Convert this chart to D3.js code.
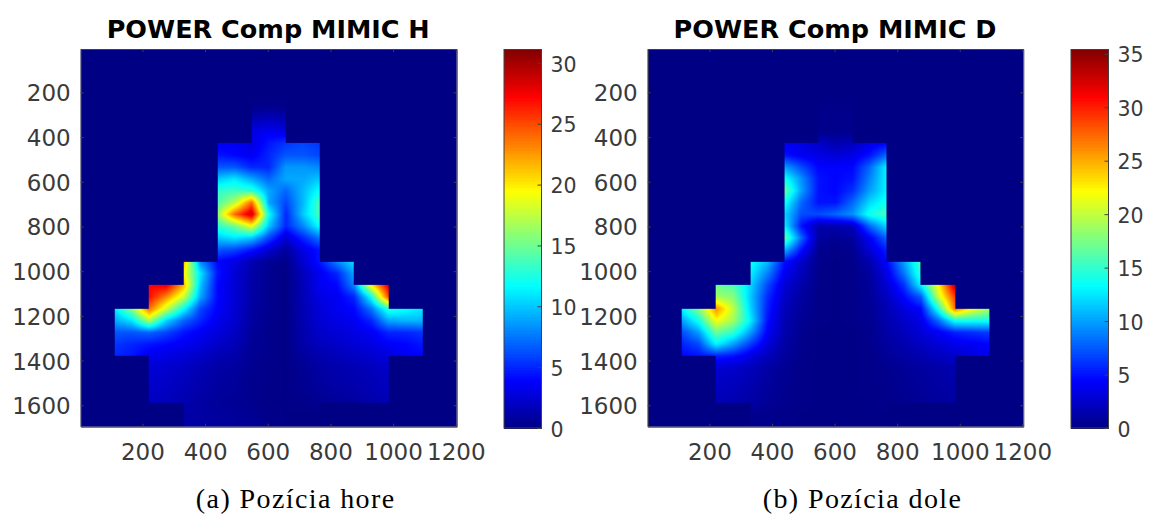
<!DOCTYPE html>
<html lang="en">
<head>
<meta charset="UTF-8">
<title>POWER Comp MIMIC</title>
<script src="https://d3js.org/d3.v7.min.js"></script>
<style>
  html, body { margin: 0; padding: 0; background: #fff; }
  svg { display: block; }
  .tick text { font-family: "DejaVu Sans", sans-serif; font-size: 23px; fill: #3a3a3a; }
  .cbar .tick text { font-size: 20.5px; }
  .tick line, .domain { stroke: #404040; }
  .title { font-family: "DejaVu Sans", sans-serif; font-weight: bold; font-size: 25.5px; fill: #000; text-anchor: middle; }
  .caption { font-family: "Liberation Serif", serif; font-size: 28px; letter-spacing: 1.4px; fill: #000; text-anchor: middle; }
</style>
</head>
<body>
<svg id="chart" width="1150" height="516"></svg>
<script>
// axis ticks
const xTicks = [200, 400, 600, 800, 1000, 1200];
const yTicks = [200, 400, 600, 800, 1000, 1200, 1400, 1600];
const xLimits = [3, 1203];
const yLimits = [6, 1696];

const titles = ["POWER Comp MIMIC H", "POWER Comp MIMIC D"];
const captions = ["(a) Pozícia hore", "(b) Pozícia dole"];
const colorTicksA = [0, 5, 10, 15, 20, 25, 30];
const colorTicksB = [0, 5, 10, 15, 20, 25, 30, 35];
const colorMaxA = 31.1;
const colorMaxB = 35.4;

// which blocks of the 11 x 16 sensor grid hold data
const blockMask = [
  "...........",
  "...........",
  ".....#.....",
  ".....#.....",
  "....###....",
  "....###....",
  "....###....",
  "....###....",
  "....###....",
  "...#####...",
  "..#######..",
  ".#########.",
  ".#########.",
  "..#######..",
  "..#######..",
  "...####...."
];

// values, half block spacing, columns 2..20, rows 4..32
const fieldA = [
  [0,0,0,0,0,0,0,0,0,0,0,0,0,0,0,0,0,0,0],
  [0,0,0,0,0,0,0,0,.3,.4,.3,0,0,0,0,0,0,0,0],
  [0,0,0,0,0,0,0,0,1.5,2,1.5,0,0,0,0,0,0,0,0],
  [0,0,0,0,0,0,0,0,3,3.5,3,0,0,0,0,0,0,0,0],
  [0,0,0,0,0,0,3.5,3.5,3,4.5,5.5,6,5.5,0,0,0,0,0,0],
  [0,0,0,0,0,0,4.5,4,3.5,5,6.5,6.5,6,0,0,0,0,0,0],
  [0,0,0,0,0,0,6.5,6.5,5,5,8.5,8.5,8,0,0,0,0,0,0],
  [0,0,0,0,0,0,10,11,9,7,9,9,10,0,0,0,0,0,0],
  [0,0,0,0,0,0,13,13.5,13,9,7,9.5,12,0,0,0,0,0,0],
  [0,0,0,0,0,0,14,17,24,9,6,9.5,14,0,0,0,0,0,0],
  [0,0,0,0,0,0,16,24,29,12,5,10,14,0,0,0,0,0,0],
  [0,0,0,0,0,0,13,15,19,10,5,8,12,0,0,0,0,0,0],
  [0,0,0,0,0,0,10,11,10,6,2.5,5,7.5,0,0,0,0,0,0],
  [0,0,0,0,0,0,6.5,6,4.5,2.5,.8,3,4.5,0,0,0,0,0,0],
  [0,0,0,0,22,8,4,3,1.5,.6,.2,2.4,4.5,8,11,0,0,0,0],
  [0,0,0,0,20,11,4.5,2.6,1.2,.4,.1,1.8,3.5,5,9,0,0,0,0],
  [0,0,27,28,22,10,4,2.6,1.1,.4,.1,1.6,3.5,4,8,20,28,0,0],
  [0,0,27,23,18,9,4,2.6,1.1,.4,.1,1.6,3,3.5,5,12,25,0,0],
  [11,16,24,18,12,6,3.8,2.5,1,.4,.1,1.5,2.7,3.5,4,7.5,13,12,11],
  [9,11,17,10.5,7,5,3.3,2.4,.9,.3,.1,1.4,2.5,3,3.5,5,9,9.5,9.5],
  [6.5,6.5,7,6,4.5,3.5,2.8,2,.7,.3,.1,1.3,2.2,2.6,3,3.5,5,5,5.5],
  [5.5,5,4.5,4,3.5,3,2.2,1.7,.6,.3,.1,1.2,1.8,2.2,2.6,3,3.7,4,4.5],
  [5,4.5,3.3,3,2.6,2.1,1.5,1.2,.5,.3,.1,.8,1.3,1.7,2,2.3,2.8,3.5,4],
  [0,0,2.6,2.4,2,1.6,1.1,.9,.4,.2,.1,.5,1,1.3,1.5,1.8,2.2,0,0],
  [0,0,2.4,2.2,1.8,1.4,.9,.8,.3,.2,.1,.4,.9,1.2,1.4,1.6,2,0,0],
  [0,0,2.2,2,1.6,1.2,.8,.7,.3,.2,.1,.4,.7,1,1.2,1.5,1.8,0,0],
  [0,0,2,1.8,1.4,1,.7,.6,.3,.1,.1,.2,.4,.6,.8,1.2,1.6,0,0],
  [0,0,0,0,1,1,.8,.7,.5,.2,.1,.1,.1,0,0,0,0,0,0],
  [0,0,0,0,1,1,.8,.7,.5,.2,.1,.1,.1,0,0,0,0,0,0]
];

const fieldB = [
  [0,0,0,0,0,0,0,0,0,0,0,0,0,0,0,0,0,0,0],
  [0,0,0,0,0,0,0,0,.2,.2,.2,0,0,0,0,0,0,0,0],
  [0,0,0,0,0,0,0,0,.3,.3,.3,0,0,0,0,0,0,0,0],
  [0,0,0,0,0,0,0,0,.3,.3,.3,0,0,0,0,0,0,0,0],
  [0,0,0,0,0,0,4,3.5,2.5,1.5,2,3.5,4.5,0,0,0,0,0,0],
  [0,0,0,0,0,0,5,4,3.5,3,3.5,5,8,0,0,0,0,0,0],
  [0,0,0,0,0,0,10,7,4.5,4.5,4.5,8,13,0,0,0,0,0,0],
  [0,0,0,0,0,0,14,9.5,5,4.5,5,9,13,0,0,0,0,0,0],
  [0,0,0,0,0,0,17,10,5,4.5,6,10,13,0,0,0,0,0,0],
  [0,0,0,0,0,0,14,8,5,5,8,12,14,0,0,0,0,0,0],
  [0,0,0,0,0,0,12,7,7,8,9.5,14,15.5,0,0,0,0,0,0],
  [0,0,0,0,0,0,13,5,1.5,1.5,2,8,12,0,0,0,0,0,0],
  [0,0,0,0,0,0,17,8,1,.6,1,4,8,0,0,0,0,0,0],
  [0,0,0,0,0,0,11,5,.5,.2,.4,3,5.5,0,0,0,0,0,0],
  [0,0,0,0,14,11,5,2.5,.3,.1,.3,1.5,4.5,10,16,0,0,0,0],
  [0,0,0,0,13,9,4,2,.2,.1,.2,1,3.5,8.5,15,0,0,0,0],
  [0,0,17,16,12,7,3,1.4,.2,.1,.2,.8,2.8,6,13,22,33,0,0],
  [0,0,19,18,11.5,6,2.5,1,.2,.1,.2,.7,2.2,4.5,7.5,20,29,0,0],
  [13,18,26,20,12,5.5,2,.8,.2,.1,.2,.6,1.7,3.2,4.5,14,27,22,19],
  [10,14,22,19,13,5,1.7,.6,.2,.1,.2,.5,1.5,2.5,3.5,8,14,14,14],
  [7,10,17,15,10,4.2,1.5,.4,.1,.1,.1,.3,1.2,2,3,4,5.5,6,6.5],
  [5.5,7,13,10,6.5,3.2,1.2,.3,.1,.1,.1,.3,1,1.6,2.2,3,3.7,4,4.5],
  [4.5,5,5.5,5,3.4,2,.9,.3,.1,.1,.1,.2,.7,1.2,1.6,2.1,2.6,3.3,3.8],
  [0,0,2.8,2.6,2,1.2,.6,.2,.1,.1,.1,.2,.4,.7,1,1.3,1.6,0,0],
  [0,0,2.4,2.2,1.7,1,.5,.2,.1,.1,.1,.2,.3,.6,.9,1.2,1.4,0,0],
  [0,0,2.1,1.9,1.4,.9,.4,.2,.1,.1,.1,.2,.3,.5,.8,1,1.3,0,0],
  [0,0,1.8,1.6,1.2,.7,.3,.2,.1,.1,.1,.1,.2,.4,.6,.9,1.2,0,0],
  [0,0,0,0,.4,.3,.2,.1,.1,.1,.1,.1,.1,0,0,0,0,0,0],
  [0,0,0,0,.4,.3,.2,.1,.1,.1,.1,.1,.1,0,0,0,0,0,0]
];

// MATLAB jet stops
const jetStops = [0, 0.125, 0.375, 0.625, 0.875, 1];
const jetColors = ["#000084", "#0000ff", "#00ffff", "#ffff00", "#ff0000", "#800000"];

const svg = d3.select("#chart");

function drawPanel(opts) {
  const { field, colorMax, colorTicks, title, caption, left, right, barLeft } = opts;
  const top = 49, bottom = 426.7, barRight = barLeft + 37.5, barTop = 49.5, barBottom = 428;

  const x = d3.scaleLinear().domain(xLimits).range([left, right]);
  const y = d3.scaleLinear().domain(yLimits).range([top, bottom]);
  const blockX = d3.scaleLinear().domain(xLimits).range([0, 11]);
  const blockY = d3.scaleLinear().domain(yLimits).range([0, 16]);
  const color = d3.scaleLinear().domain(jetStops.map(d => d * colorMax)).range(jetColors).clamp(true);

  // paint the map to a canvas and put it in the svg as an image
  const w = Math.round(right - left), h = Math.round(bottom - top);
  const canvas = document.createElement("canvas");
  canvas.width = w; canvas.height = h;
  const ctx = canvas.getContext("2d");
  const img = ctx.createImageData(w, h);
  for (let py = 0; py < h; py++) {
    for (let px = 0; px < w; px++) {
      const dx = x.invert(left + (px + 0.5) * (right - left) / w);
      const dy = y.invert(top + (py + 0.5) * (bottom - top) / h);
      const bx = blockX(dx), by = blockY(dy);
      let v = 0;
      if (blockMask[Math.floor(by)][Math.floor(bx)] === "#") {
        const fx = bx * 2 - 2, fy = by * 2 - 4;
        const i0 = Math.floor(fx), j0 = Math.floor(fy);
        const i1 = Math.min(i0 + 1, 18), j1 = Math.min(j0 + 1, 28);
        const tx = fx - i0, ty = fy - j0;
        v = (field[j0][i0] * (1 - tx) + field[j0][i1] * tx) * (1 - ty)
          + (field[j1][i0] * (1 - tx) + field[j1][i1] * tx) * ty;
      }
      const c = d3.rgb(color(v));
      const k = (py * w + px) * 4;
      img.data[k] = c.r; img.data[k + 1] = c.g; img.data[k + 2] = c.b; img.data[k + 3] = 255;
    }
  }
  ctx.putImageData(img, 0, 0);
  svg.append("image")
    .attr("x", left).attr("y", top)
    .attr("width", right - left).attr("height", bottom - top)
    .attr("preserveAspectRatio", "none")
    .attr("href", canvas.toDataURL());

  // box with inward ticks on all four sides
  svg.append("g").attr("transform", `translate(0,${bottom})`)
    .call(d3.axisBottom(x).tickValues(xTicks).tickFormat(d3.format("d")).tickSize(-3).tickSizeOuter(0).tickPadding(17));
  svg.append("g").attr("transform", `translate(${left},0)`)
    .call(d3.axisLeft(y).tickValues(yTicks).tickFormat(d3.format("d")).tickSize(-3).tickSizeOuter(0).tickPadding(10))
    .selectAll("text").attr("dy", "0.37em");
  svg.append("g").attr("transform", `translate(0,${top})`)
    .call(d3.axisTop(x).tickValues(xTicks).tickSize(-3).tickSizeOuter(0).tickFormat(""));
  svg.append("g").attr("transform", `translate(${right},0)`)
    .call(d3.axisRight(y).tickValues(yTicks).tickSize(-3).tickSizeOuter(0).tickFormat(""));

  // colorbar
  const barY = d3.scaleLinear().domain([0, colorMax]).range([barBottom, barTop]);
  const levels = d3.range(0, colorMax, colorMax / 256);
  svg.append("g").attr("shape-rendering", "crispEdges").selectAll("rect").data(levels).join("rect")
    .attr("x", barLeft)
    .attr("y", d => barY(d + colorMax / 256))
    .attr("width", barRight - barLeft)
    .attr("height", (barBottom - barTop) / 256 + 1)
    .attr("fill", d => color(d));
  svg.append("rect")
    .attr("x", barLeft).attr("y", barTop)
    .attr("width", barRight - barLeft).attr("height", barBottom - barTop)
    .attr("fill", "none").attr("stroke", "#404040");
  svg.append("g").attr("class", "cbar").attr("transform", `translate(${barRight},0)`)
    .call(d3.axisRight(barY).tickValues(colorTicks).tickSize(-4).tickSizeOuter(0).tickPadding(9))
    .call(g => g.select(".domain").remove())
    .selectAll("text").attr("dy", "0.4em");

  svg.append("text").attr("class", "title")
    .attr("x", (left + right) / 2 - 0.5).attr("y", 38).text(title);
  svg.append("text").attr("class", "caption")
    .attr("x", (left + right) / 2 + 27).attr("y", 508).text(caption);
}

drawPanel({ field: fieldA, colorMax: colorMaxA, colorTicks: colorTicksA, title: titles[0], caption: captions[0], left: 80.7, right: 456.7, barLeft: 504 });
drawPanel({ field: fieldB, colorMax: colorMaxB, colorTicks: colorTicksB, title: titles[1], caption: captions[1], left: 647.7, right: 1023.3, barLeft: 1071 });
</script>
</body>
</html>
